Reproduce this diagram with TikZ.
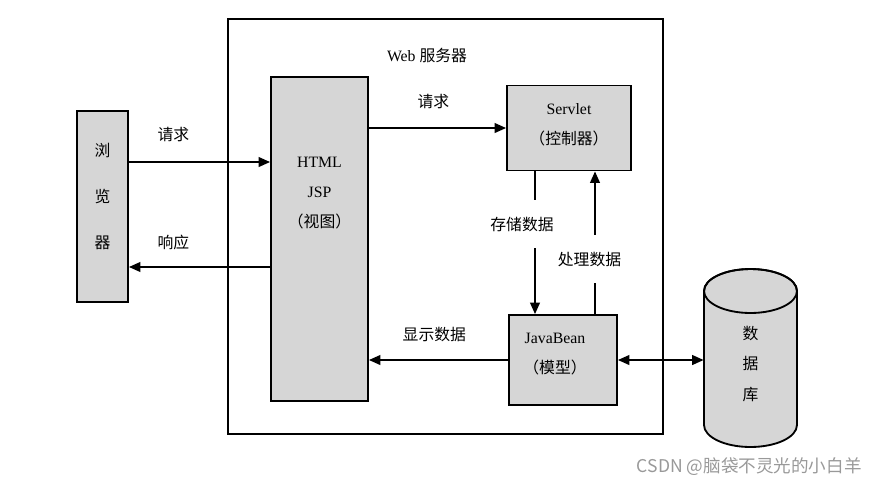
\documentclass[tikz,border=0pt]{standalone}
\usepackage{fontspec}
\setmainfont{Liberation Serif}
\newfontfamily\cjk{Noto Sans CJK SC}
\usetikzlibrary{arrows.meta}
\usetikzlibrary{positioning,calc}

\begin{document}
\begin{tikzpicture}[x=0.02cm,y=-0.02cm,
         font=\fontsize{9}{12}\selectfont,
         box/.style = {draw,line width=1.05pt,fill=black!16,inner sep=0pt},
         conn/.style = {line width=1.05pt,-{Triangle[length=6.5pt,width=5.5pt]}},
         dconn/.style = {line width=1.05pt,{Triangle[length=6.5pt,width=5.5pt]}-{Triangle[length=6.5pt,width=5.5pt]}},
         lbl/.style = {font=\cjk\fontsize{9}{12}\selectfont,inner sep=0pt}
]

         \useasboundingbox (0,0) rectangle (877,485);

         % web server frame
         \node[draw,line width=0.9pt,inner sep=0pt,minimum width=8.7cm,
            minimum height=8.3cm]                        (web) at (445.5,226.5) {};
         \node[inner sep=0pt]                            (webtitle) at (427,55) {Web {\cjk 服务器}};

         % boxes
         \node[box,minimum width=1.02cm,minimum height=3.82cm] (browser) at (102.5,206.5) {};
         \node[box,minimum width=1.94cm,minimum height=6.48cm] (html)    at (319.5,239)   {};
         \node[box,minimum width=2.48cm,minimum height=1.7cm]  (servlet) at (569,128)     {};
         \node[box,minimum width=2.16cm,minimum height=1.8cm]  (bean)    at (563,360)     {};

         % box texts
         \node[lbl,align=center] (browsertxt) at ([yshift=0.2cm]browser.center)
            {浏\\[0.5cm]览\\[0.5cm]器};
         \node[inner sep=0pt,align=center] (htmltxt) at ([yshift=0.92cm]html.center)
            {HTML\\[0.18cm]JSP\\[0.18cm]{\cjk （视图）}};
         \node[inner sep=0pt,align=center] (servlettxt) at ([yshift=0.06cm]servlet.center)
            {Servlet\\[0.18cm]{\cjk （控制器）}};
         \node[inner sep=0pt,align=center] (beantxt) at ([xshift=-0.16cm,yshift=0.12cm]bean.center)
            {JavaBean\\[0.18cm]{\cjk （模型）}};

         % database
         \draw[line width=1.05pt,fill=black!16] (704,291) -- (704,425)
            arc[start angle=180,end angle=360,x radius=0.93cm,y radius=0.44cm]
            -- (797,291)
            arc[start angle=0,end angle=180,x radius=0.93cm,y radius=0.44cm] -- cycle;
         \draw[line width=1.05pt] (750.5,291) ellipse[x radius=0.93cm,y radius=0.44cm];
         \node[lbl,align=center,minimum width=1.86cm] (db) at (750.5,364)
            {数\\[0.19cm]据\\[0.19cm]库};

         % browser <-> view
         \coordinate (req)  at ([yshift=0.89cm]browser.east);
         \coordinate (resp) at ([yshift=-1.21cm]browser.east);
         \draw[conn] (req) -- (req -| html.west)
            node[lbl,pos=.315,yshift=0.56cm] (reqlbl) {请求};
         \draw[conn] (resp -| html.west) -- (resp)
            node[lbl,pos=.685,yshift=0.5cm] (resplbl) {响应};

         % view <-> servlet, bean
         \draw[conn] (html.east |- servlet.west) -- (servlet.west)
            node[lbl,pos=.47,yshift=0.54cm] (req2lbl) {请求};
         \draw[conn] (bean.west) -- (bean.west -| html.east)
            node[lbl,pos=.53,yshift=0.52cm] (showlbl) {显示数据};

         % servlet <-> bean
         \coordinate (st) at ([xshift=-0.68cm]servlet.south);
         \node[lbl,minimum height=0.96cm] (store) at (522,224) {存储数据};
         \draw[line width=1.05pt] (st) -- (st |- store.north);
         \draw[conn] (st |- store.south) -- (st |- bean.north);

         \coordinate (pr) at ([xshift=0.64cm]bean.north);
         \node[lbl,minimum height=0.96cm] (proc) at (589.5,259) {处理数据};
         \draw[line width=1.05pt] (pr) -- (pr |- proc.south);
         \draw[conn] (pr |- proc.north) -- (pr |- servlet.south);

         % bean <-> database
         \draw[dconn] (bean.east) -- (bean.east -| db.west);

         % watermark
         \node[font=\cjk\fontsize{10}{12}\selectfont,text=black!40,inner sep=0pt,
            anchor=east] (mark) at (862,467) {CSDN @脑袋不灵光的小白羊};

\end{tikzpicture}
\end{document}
